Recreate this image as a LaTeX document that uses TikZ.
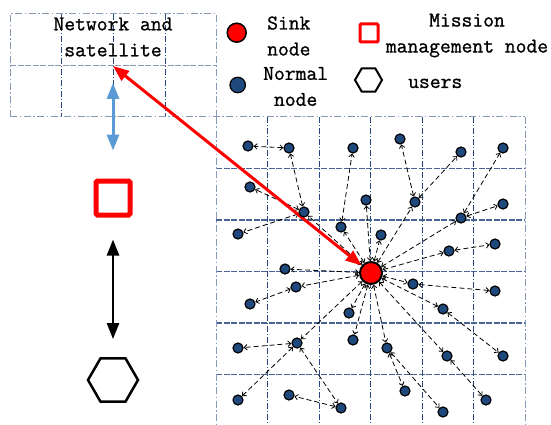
\documentclass[tikz,border=0pt]{standalone}
\usepackage{fontspec}
\newfontfamily\lblfont{Latin Modern Mono}[FakeBold=1]
\usetikzlibrary{arrows.meta,shapes.geometric,backgrounds}

\definecolor{nodeblue}{RGB}{31,73,125}
\definecolor{griddark}{RGB}{40,72,130}
\definecolor{gridlight}{RGB}{135,155,185}
\definecolor{linkblue}{RGB}{91,155,213}

\tikzset{
	normal/.style={circle,draw=black,fill=nodeblue,line width=1.2pt,inner sep=0pt,minimum size=10pt},
	sink/.style={circle,draw=black,fill=red,line width=2pt,inner sep=0pt,minimum size=22pt},
	mission/.style={rectangle,draw=red,line width=5pt,rounded corners=1.5pt,inner sep=0pt,minimum size=34pt},
	users/.style={regular polygon,regular polygon sides=6,draw=black,line width=2.5pt,inner sep=0pt,minimum size=50pt},
	txt/.style={font=\lblfont\fontsize{21}{26}\selectfont,inner sep=0pt,align=center},
	link/.style={black,line width=0.8pt,dash pattern=on 5pt off 3pt,
		{Straight Barb[length=3pt,width=5.5pt]}-{Straight Barb[length=3pt,width=5.5pt]}},
	bigarrow/.style={line width=3pt,{Triangle[length=16pt,width=12pt]}-{Triangle[length=16pt,width=12pt]}},
	gridout/.style={gridlight,line width=1pt,dash pattern=on 7pt off 2.5pt on 1.5pt off 2.5pt},
	gridcol/.style={griddark,line width=0.9pt,dash pattern=on 6pt off 2pt on 1pt off 2pt},
	gridrow/.style={griddark!85!white,line width=1.5pt,dash pattern=on 6pt off 1.5pt},
}

\begin{document}
\begin{tikzpicture}[x=1pt,y=-1pt]
	\useasboundingbox (0,0) rectangle (551,425);

	\def\cell{51.5}

	% legend
	\node[sink,minimum size=19pt,line width=1.5pt] (lsink) at (236.7,32.7) {};
	\node[normal,minimum size=15.5pt] (lnormal) at (237.7,85) {};
	\node[mission,minimum size=18pt,line width=3pt,rounded corners=1pt] (lmission) at (369,33) {};
	\node[users,minimum size=27pt,line width=2pt] (lusers) at (368.5,80) {};
	\node[txt,anchor=west] (tsink) at (267,36) {Sink\\node};
	\node[txt,anchor=west] (tnormal) at (263,86.5) {Normal\\node};
	\node[txt] (tmission) at (467,35.5) {Mission\\management node};
	\node[txt,anchor=base west] (tusers) at (408,88) {users};

	% network / satellite panel
	\node[txt] (tsat) at (113,37) {Network and\\satellite};
	\coordinate (sat) at (113,66);

	% left column: mission node and users
	\node[mission] (mm) at (113,198) {};
	\node[users] (usr) at (113,380) {};

	% field nodes
	\node[sink] (sink) at (371,273) {};
	\foreach \n/\x/\y in {
		n1/248/146, n2/289/148, n3/353/148, n4/400/139, n5/461/152, n6/503/148,
		n7/250/187, n8/304/212, n9/366/200, n10/415/202, n11/503/204, n12/461/218,
		n13/238/234, n14/341/227, n15/381/235, n16/495/244, n17/449/251,
		n18/285/269, n19/296/287, n20/413/284, n21/495/291, n22/250/304, n23/443/309,
		n24/349/313, n25/353/340, n26/297/343, n27/238/348, n28/387/348, n29/447/356,
		n30/503/356, n31/405/391, n32/486/400, n33/238/400, n34/289/395, n35/341/408,
		n36/443/412}
		\node[normal] (\n) at (\x,\y) {};

	\begin{pgfonlayer}{background}
		% grids
		\foreach \x in {61.5,113,165}
			\draw[gridcol] (\x,14) -- (\x,117);
		\draw[gridout,dash pattern=on 6pt off 1.5pt,line width=1.2pt] (10,65.5) -- (216,65.5);
		\draw[gridout] (10,117) -- (10,14) -- (216,14) -- (216,117);
		\foreach \i in {1,...,5}
			\draw[gridcol] (216+\i*\cell,117) -- (216+\i*\cell,425);
		\foreach \i in {1,...,5}
			\draw[gridrow] (216,117+\i*\cell) -- (525,117+\i*\cell);
		\draw[gridout] (10,117) -- (525,117);
		\draw[gridout] (216,117) -- (216,425);
		\draw[gridout] (525,117) -- (525,425);

		% links between field nodes
		\foreach \a/\b in {sink/n8, n8/n2, n2/n1, n8/n7, n8/n13, sink/n14, n14/n3,
			sink/n9, sink/n15, sink/n10, n10/n4, n10/n5, sink/n12, n12/n6, n12/n11,
			sink/n17, n17/n16, sink/n18, sink/n19, n19/n22, sink/n20, n20/n21,
			sink/n23, n23/n30, sink/n29, n29/n32, sink/n28, n28/n31, n28/n36,
			sink/n24, sink/n25, sink/n26, n26/n27, n26/n33, n26/n35, n35/n34}
			\draw[link] (\a) -- (\b);

		% uplinks
		\draw[bigarrow,red] (sat) -- (sink);
		\draw[bigarrow,linkblue,shorten <=28pt,shorten >=17pt] (mm) -- (sat);
		\draw[bigarrow,black,line width=2.5pt,shorten <=22pt,shorten >=18pt] (mm) -- (usr);
	\end{pgfonlayer}

\end{tikzpicture}
\end{document}
